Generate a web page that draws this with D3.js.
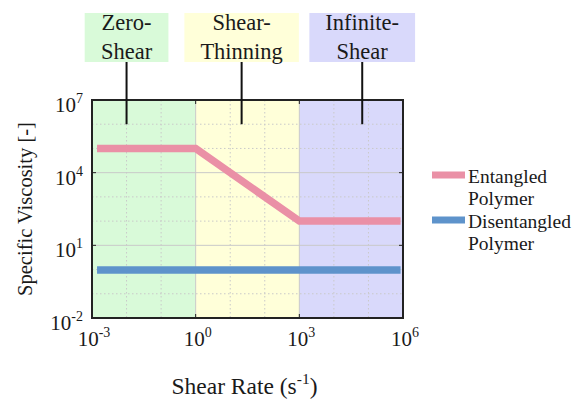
<!DOCTYPE html>
<html>
<head>
<meta charset="utf-8">
<script src="https://cdn.jsdelivr.net/npm/d3@7"></script>
<style>
  body { margin: 0; background: #fff; }
  svg text { font-family: 'Liberation Serif', 'Times New Roman', Times, serif; fill: #1a1a1a; }
</style>
</head>
<body>
<svg width="583" height="400"></svg>
<script>
// data
var xTicks = [1e-3, 1e0, 1e3, 1e6];
var yTicks = [1e-2, 1e1, 1e4, 1e7];
var regions = [
  { name: ["Zero-", "Shear"], x0: 1e-3, x1: 1e0, fill: "#d9fad9", labelX: 1e-2 },
  { name: ["Shear-", "Thinning"], x0: 1e0, x1: 1e3, fill: "#ffffd9", labelX: Math.pow(10, 1.33) },
  { name: ["Infinite-", "Shear"], x0: 1e3, x1: 1e6, fill: "#d9d9fb", labelX: Math.pow(10, 4.82) }
];
var entangledX = [1.4e-3, 1e0, 1e3, 8.5e5];
var entangledY = [1e5, 1e5, 1e2, 1e2];
var disentangledX = [1.4e-3, 8.5e5];
var disentangledY = [0.95, 0.95];
var seriesNames = [["Entangled", "Polymer"], ["Disentangled", "Polymer"]];
var seriesColors = ["#ea90a6", "#5e93cb"];

var svg = d3.select("svg");
var pLeft = 92, pRight = 403, pTop = 100, pBottom = 318;

var x = d3.scaleLog().domain([1e-3, 1e6]).range([pLeft, pRight]);
var y = d3.scaleLog().domain([1e-2, 1e7]).range([pBottom, pTop]);

// region backgrounds
svg.append("g").selectAll("rect")
    .data(regions)
  .enter().append("rect")
    .attr("x", function(d) { return x(d.x0); })
    .attr("y", pTop)
    .attr("width", function(d) { return x(d.x1) - x(d.x0); })
    .attr("height", pBottom - pTop)
    .attr("fill", function(d) { return d.fill; });

// grid, dotted each decade, solid at ticks
var decadesX = d3.range(-3, 7).map(function(e) { return Math.pow(10, e); });
var decadesY = d3.range(-2, 8).map(function(e) { return Math.pow(10, e); });
var grid = svg.append("g");
grid.selectAll(".gx")
    .data(decadesX)
  .enter().append("line")
    .attr("x1", function(d) { return x(d); })
    .attr("x2", function(d) { return x(d); })
    .attr("y1", pTop).attr("y2", pBottom)
    .attr("stroke", "#c9c9c9")
    .attr("stroke-width", 1)
    .attr("stroke-dasharray", function(d) { return xTicks.indexOf(d) >= 0 ? null : "1.5,2.5"; });
grid.selectAll(".gy")
    .data(decadesY)
  .enter().append("line")
    .attr("y1", function(d) { return y(d); })
    .attr("y2", function(d) { return y(d); })
    .attr("x1", pLeft).attr("x2", pRight)
    .attr("stroke", "#c9c9c9")
    .attr("stroke-width", 1)
    .attr("stroke-dasharray", function(d) { return yTicks.indexOf(d) >= 0 ? null : "1.5,2.5"; });

// series lines
var line = d3.line()
    .x(function(d) { return x(d[0]); })
    .y(function(d) { return y(d[1]); });

svg.append("path")
    .datum(d3.zip(entangledX, entangledY))
    .attr("d", line)
    .attr("fill", "none")
    .attr("stroke", seriesColors[0])
    .attr("stroke-width", 7.5);

svg.append("path")
    .datum(d3.zip(disentangledX, disentangledY))
    .attr("d", line)
    .attr("fill", "none")
    .attr("stroke", seriesColors[1])
    .attr("stroke-width", 7.5);

// ticks inside
var tk = svg.append("g").attr("stroke", "#222").attr("stroke-width", 1);
yTicks.forEach(function(t) {
  tk.append("line").attr("x1", pLeft).attr("x2", pLeft + 4).attr("y1", y(t)).attr("y2", y(t));
  tk.append("line").attr("x1", pRight).attr("x2", pRight - 4).attr("y1", y(t)).attr("y2", y(t));
});
xTicks.forEach(function(t) {
  tk.append("line").attr("y1", pBottom).attr("y2", pBottom - 4).attr("x1", x(t)).attr("x2", x(t));
  tk.append("line").attr("y1", pTop).attr("y2", pTop + 4).attr("x1", x(t)).attr("x2", x(t));
});

// frame
svg.append("rect")
    .attr("x", pLeft).attr("y", pTop)
    .attr("width", pRight - pLeft).attr("height", pBottom - pTop)
    .attr("fill", "none")
    .attr("stroke", "#222")
    .attr("stroke-width", 2);

// tick labels
function powLabel(sel, v) {
  var e = Math.round(Math.log10(v));
  sel.append("tspan").text("10");
  sel.append("tspan").attr("dy", -9).attr("font-size", 14).text(e);
}
svg.append("g").selectAll("text")
    .data(yTicks)
  .enter().append("text")
    .attr("x", 83)
    .attr("y", function(d) { return y(d) + 12; })
    .attr("text-anchor", "end")
    .attr("font-size", 21)
    .each(function(d) { powLabel(d3.select(this), d); });

svg.append("g").selectAll("text")
    .data(xTicks)
  .enter().append("text")
    .attr("x", function(d) { return x(d) + 2; })
    .attr("y", 346)
    .attr("text-anchor", "middle")
    .attr("font-size", 21)
    .each(function(d) { powLabel(d3.select(this), d); });

// axis titles
var xt = svg.append("text")
    .attr("x", (pLeft + pRight) / 2 - 3)
    .attr("y", 394)
    .attr("text-anchor", "middle")
    .attr("font-size", 23.5);
xt.append("tspan").text("Shear Rate (s");
xt.append("tspan").attr("dy", -10).attr("font-size", 15.5).text("-1");
xt.append("tspan").attr("dy", 10).text(")");

svg.append("text")
    .attr("transform", "translate(32," + ((pTop + pBottom) / 2) + ") rotate(-90)")
    .attr("text-anchor", "middle")
    .attr("font-size", 20.5)
    .text("Specific Viscosity [-]");

// region labels above the plot
var ann = svg.append("g");
regions.forEach(function(r) {
  var cx = x(r.labelX);
  var g = ann.append("g");
  var rect = g.append("rect").attr("fill", r.fill);
  var t = g.append("text").attr("text-anchor", "middle").attr("font-size", 22.5);
  t.append("tspan").attr("x", cx).attr("y", 30).text(r.name[0]);
  t.append("tspan").attr("x", cx).attr("y", 59).text(r.name[1]);
  var bb = t.node().getBBox();
  var w = bb.width + 32;
  rect.attr("x", cx - w / 2).attr("y", 13).attr("width", w).attr("height", 49);
  g.append("line")
      .attr("x1", cx).attr("x2", cx)
      .attr("y1", 62).attr("y2", y(1e6))
      .attr("stroke", "#111")
      .attr("stroke-width", 2);
});

// legend
var leg = svg.append("g");
seriesNames.forEach(function(n, i) {
  var y0 = 175 + i * 45;
  leg.append("line")
      .attr("x1", 432).attr("x2", 465)
      .attr("y1", y0).attr("y2", y0)
      .attr("stroke", seriesColors[i])
      .attr("stroke-width", 7);
  var t = leg.append("text").attr("font-size", 19.5);
  t.append("tspan").attr("x", 468).attr("y", y0 + 8).text(n[0]);
  t.append("tspan").attr("x", 468).attr("y", y0 + 30).text(n[1]);
});
</script>
</body>
</html>
